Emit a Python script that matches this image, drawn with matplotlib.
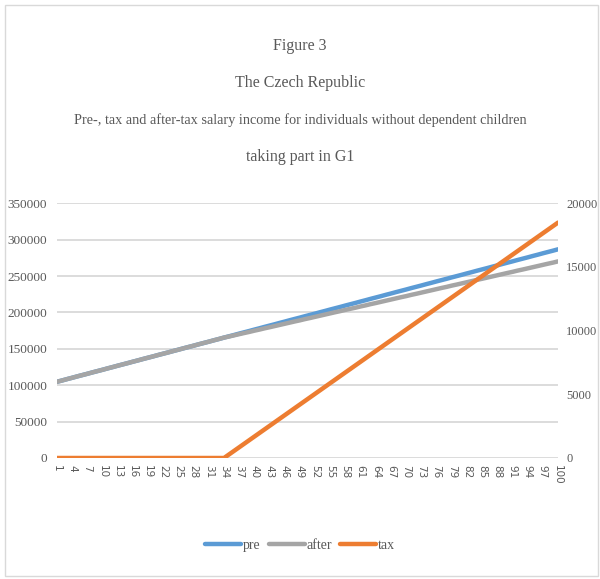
import numpy as np
import matplotlib
matplotlib.use("Agg")
import matplotlib.pyplot as plt
from matplotlib.patches import Rectangle

# ============== data ==============
idx = list(range(1, 101))

pre = [104700, 106500, 108400, 110200, 112100, 113900, 115700, 117600, 119400, 121200,
       123100, 124900, 126800, 128600, 130400, 132300, 134100, 136000, 137800, 139600,
       141500, 143300, 145100, 147000, 148800, 150700, 152500, 154300, 156200, 158000,
       159800, 161700, 163500, 165400, 167200, 169000, 170900, 172700, 174500, 176400,
       178200, 180100, 181900, 183700, 185600, 187400, 189300, 191100, 192900, 194800,
       196600, 198400, 200300, 202100, 204000, 205800, 207600, 209500, 211300, 213100,
       215000, 216800, 218700, 220500, 222300, 224200, 226000, 227900, 229700, 231500,
       233400, 235200, 237000, 238900, 240700, 242600, 244400, 246200, 248100, 249900,
       251700, 253600, 255400, 257300, 259100, 260900, 262800, 264600, 266500, 268300,
       270100, 272000, 273800, 275600, 277500, 279300, 281200, 283000, 284800, 286700]

after = [104700, 106500, 108400, 110200, 112100, 113900, 115700, 117600, 119400, 121200,
         123100, 124900, 126800, 128600, 130400, 132300, 134100, 136000, 137800, 139600,
         141500, 143300, 145100, 147000, 148800, 150700, 152500, 154300, 156200, 158000,
         159800, 161700, 163500, 165400, 166900, 168500, 170100, 171700, 173200, 174900,
         176400, 178100, 179600, 181200, 182800, 184400, 186000, 187600, 189100, 190800,
         192300, 193900, 195500, 197100, 198700, 200300, 201800, 203500, 205000, 206500,
         208200, 209700, 211400, 212900, 214500, 216100, 217700, 219300, 220900, 222400,
         224100, 225600, 227200, 228800, 230400, 232000, 233600, 235100, 236800, 238300,
         239900, 241500, 243100, 244700, 246200, 247800, 249400, 251000, 252600, 254200,
         255700, 257400, 258900, 260500, 262100, 263700, 265300, 266900, 268400, 270100]

tax = [0, 0, 0, 0, 0, 0, 0, 0, 0, 0,
       0, 0, 0, 0, 0, 0, 0, 0, 0, 0,
       0, 0, 0, 0, 0, 0, 0, 0, 0, 0,
       0, 0, 0, 0, 280, 560, 840, 1120, 1400, 1680,
       1960, 2240, 2520, 2800, 3080, 3360, 3640, 3920, 4200, 4480,
       4760, 5040, 5320, 5600, 5880, 6160, 6440, 6720, 7000, 7280,
       7560, 7840, 8120, 8400, 8680, 8960, 9240, 9520, 9800, 10080,
       10360, 10640, 10920, 11200, 11480, 11760, 12040, 12320, 12600, 12880,
       13160, 13440, 13720, 14000, 14280, 14560, 14840, 15120, 15400, 15680,
       15960, 16240, 16520, 16800, 17080, 17360, 17640, 17920, 18200, 18480]

left_ticks = [0, 50000, 100000, 150000, 200000, 250000, 300000, 350000]
right_ticks = [0, 5000, 10000, 15000, 20000]
x_ticks = list(range(1, 101, 3))

title_lines = ["Figure 3",
               "The Czech Republic",
               "Pre-, tax and after-tax salary income for individuals without dependent children",
               "taking part in G1"]

# ============== style ==============
serif = "Liberation Serif"
txt_col = "#595959"
grid_col = "#d9d9d9"
c_pre, c_after, c_tax = "#5b9bd5", "#a5a5a5", "#ed7d31"

fig = plt.figure(figsize=(6.0, 5.79), dpi=100)
fig.patches.append(Rectangle((0.008, 0.006), 0.988, 0.986, transform=fig.transFigure,
                             fill=False, edgecolor=grid_col, linewidth=1.0))

ax = fig.add_axes([0.095, 0.209, 0.835, 0.44])
ax2 = ax.twinx()

l1, = ax.plot(idx, pre, color=c_pre, lw=3.2, solid_capstyle="round", label="pre")
l2, = ax.plot(idx, after, color=c_after, lw=3.2, solid_capstyle="round", label="after")
l3, = ax2.plot(idx, tax, color=c_tax, lw=3.2, solid_capstyle="round", label="tax")

ax.set_xlim(1, 100)
ax.set_ylim(0, 350000)
ax2.set_ylim(0, 20000)
ax.set_yticks(left_ticks)
ax2.set_yticks(right_ticks)
ax.set_xticks(x_ticks)
ax.set_xticklabels([str(v) for v in x_ticks], rotation=-90, fontsize=7.5,
                   family="DejaVu Sans", color=txt_col)
ax.set_yticklabels([str(v) for v in left_ticks], fontsize=9.5, family=serif, color=txt_col)
ax2.set_yticklabels([str(v) for v in right_ticks], fontsize=9, family=serif, color=txt_col)

ax.grid(axis="y", color=grid_col, lw=1.3)
ax.set_axisbelow(True)
for a in (ax, ax2):
    for s in a.spines.values():
        s.set_visible(False)
    a.tick_params(length=0)
ax.tick_params(axis="y", pad=7)
ax2.tick_params(axis="y", pad=6)
ax.tick_params(axis="x", pad=5)

# title
ys = [0.921, 0.857, 0.793, 0.729]
sizes = [11.5, 11.5, 10.3, 11.5]
for t, y, fs in zip(title_lines, ys, sizes):
    fig.text(0.5, y, t, ha="center", va="center", fontsize=fs, family=serif, color=txt_col)

fig.legend([l1, l2, l3], ["pre", "after", "tax"], loc="center", bbox_to_anchor=(0.5, 0.058),
           ncol=3, frameon=False, prop={"family": serif, "size": 10},
           handlelength=2.6, handletextpad=0.1, columnspacing=0.6, labelcolor=txt_col)

fig.savefig("out.png", dpi=100)
